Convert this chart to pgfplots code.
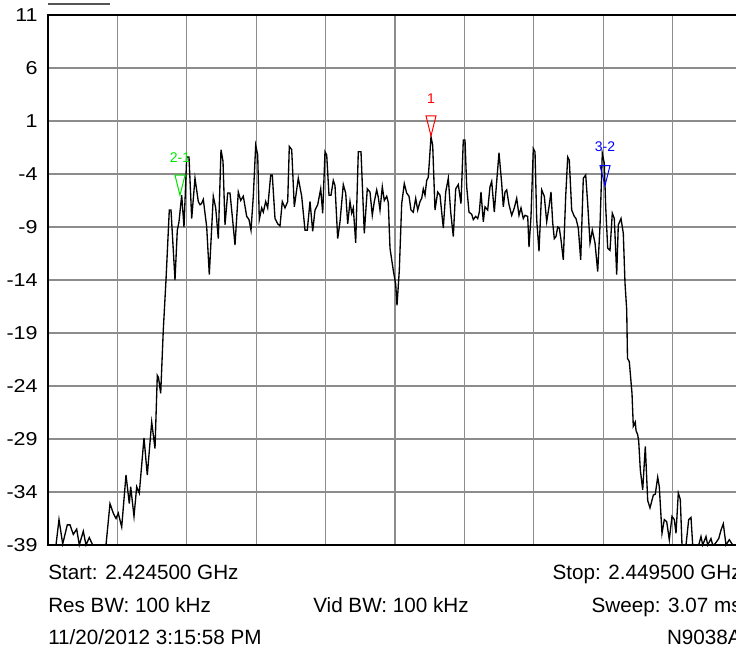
\documentclass[border=0pt]{standalone}
\usepackage{fontspec}
\setmainfont{Liberation Sans}
\newfontfamily\tickfont[FakeStretch=1.15]{Liberation Sans}
\usepackage{pgfplots}
\pgfplotsset{compat=1.18}
\pgfdeclareplotmark{mkdown}{%
  \pgfpathmoveto{\pgfqpoint{0pt}{0pt}}%
  \pgfpathlineto{\pgfqpoint{-3.75pt}{15pt}}%
  \pgfpathlineto{\pgfqpoint{3.75pt}{15pt}}%
  \pgfpathclose
  \pgfusepathqstroke}
\definecolor{gridgray}{RGB}{140,140,140}
\definecolor{mkgreen}{RGB}{0,230,0}
\definecolor{mkblue}{RGB}{0,0,255}
\definecolor{mkred}{RGB}{255,0,0}
\definecolor{bargray}{RGB}{85,85,85}
\begin{document}
\begin{tikzpicture}
\useasboundingbox (-36pt,-78.75pt) rectangle (516pt,408.75pt);
\begin{scope}[overlay]
\begin{axis}[
  at={(0,0)}, anchor=south west,
  scale only axis, width=520.5pt, height=397.5pt,
  xmin=48, xmax=742, ymin=-39, ymax=11,
  xtick={48,117.4,186.8,256.2,325.6,395,464.4,533.8,603.2,672.6,742},
  xticklabels={},
  ytick={-39,-34,-29,-24,-19,-14,-9,-4,1,6,11},
  grid=major,
  major grid style={draw=gridgray, line width=0.8pt},
  major tick length=0pt,
  axis line style={black, line width=1pt},
  /pgf/number format/assume math mode=true,
  yticklabel style={font=\tickfont\fontsize{14}{16}\selectfont, xshift=-4.3pt},
  clip=false,
]
\addplot[black, line width=1pt, mark=none] coordinates {
(48,-39) (56,-39) (59,-36.6) (62.7,-38.9) (67.3,-37.1) (70,-37.1) (73.3,-38) (76.7,-37.5)
(79.3,-39) (83.3,-37.7) (86,-39) (89.3,-38.3) (92.7,-39) (106,-39) (110,-35.1) (113.3,-36)
(116,-36.5) (118.3,-36) (121.7,-37.3) (126,-32.4) (129.3,-35.1) (130.7,-33.5) (134,-36.3)
(136.7,-33.5) (139.3,-34.1) (144,-28.9) (147.3,-32.4) (151.7,-27.4) (155,-29.9) (157.3,-23)
(158.5,-23.2) (160.7,-24.7) (163.3,-18.7) (166,-14) (169.3,-7.4) (171,-7.4) (175,-14)
(177.3,-9.3) (179,-8.5) (181.7,-6) (184,-9) (186.7,-2.4) (189,-2.4) (191.7,-8.2) (195,-4.4)
(198.3,-6.6) (200,-6.9) (201.5,-6.8) (203.3,-6.4) (206.7,-9) (209.3,-13.5) (213.3,-6.1)
(215.7,-7.2) (218.3,-10.1) (221,-1.7) (223,-2.8) (225,-8.8) (227.7,-5.8) (230,-5.8)
(232.3,-8) (235,-10.7) (238.3,-5.7) (240.7,-6.5) (243.3,-6.1) (246.7,-8) (249,-8.3)
(251,-9.3) (253.3,-6.1) (255.7,-1.3) (257.7,-2.2) (259.3,-8.3) (261.7,-7.2) (263.3,-7.6)
(265.7,-6.6) (267.7,-7.2) (270.7,-4.1) (272.3,-4.1) (275,-8.2) (277.7,-8.7) (280,-8.9)
(282.3,-6.6) (285,-7.2) (287.7,-6.6) (289.3,-1.4) (291.7,-1.7) (294.3,-7.1) (298.3,-4.4)
(301.7,-6.1) (305,-9.3) (307.3,-9.3) (310,-6.6) (312.7,-9.4) (315,-7.4) (317.7,-6.9)
(320.7,-5.4) (322.7,-7.7) (325,-1.9) (326.7,-2.2) (329,-6) (331,-6) (333.3,-4.6) (335,-5.1)
(337.7,-10.1) (340,-8.5) (343.3,-5) (345.7,-5.8) (347.7,-8.7) (350,-6.6) (351.7,-7.7)
(353.3,-7.2) (355.7,-10.5) (358.3,-1.9) (361,-1.9) (364.3,-9.6) (367.3,-5.4) (370,-5.7)
(372.3,-7.9) (374.3,-6.6) (376.7,-5.5) (378.3,-6.2) (380,-7.4) (382.3,-5.2) (384.3,-6.5)
(386.7,-6.1) (388.3,-6.7) (390,-11) (393.3,-13.1) (395.7,-14.4) (397,-16.4) (399.3,-13.1)
(401.7,-6.8) (404.3,-4.9) (406.7,-5.8) (409,-6.1) (411,-7.4) (413.3,-7.6) (415.7,-6.3)
(417.7,-7.4) (420,-6.6) (421.7,-6.3) (423.3,-5.4) (425,-6) (426.7,-4.6) (428.3,-4.3)
(431,-0.5) (432.7,-1.3) (435,-7.4) (437.7,-5.7) (440,-6) (443.3,-9.1) (445.7,-5.7)
(448.3,-4.4) (450.7,-7.6) (453.3,-9.9) (455.7,-5.4) (458.3,-5) (461,-6.8) (463.3,-0.8)
(465,-0.8) (466.7,-5.2) (469,-7.6) (471.7,-7.8) (473.3,-8.3) (475.7,-8) (477.7,-8.2)
(479.3,-7.6) (481,-5.7) (483.3,-8.5) (485,-7.1) (487.7,-7.4) (490,-5.2) (491.7,-4.7)
(494.3,-7.6) (496.7,-4.7) (499,-2) (501.7,-4.9) (503.3,-7.1) (505,-5.7) (506.7,-5.5)
(509,-6.9) (511.7,-7.9) (514.3,-7.2) (516.7,-6.3) (519,-7.9) (521,-7.2) (523.3,-8.2)
(525,-7.9) (527.7,-8) (529,-10.9) (531,-8) (533.3,-1.6) (535,-1.9) (536.7,-8.3)
(539,-11.3) (541.7,-5.5) (544.3,-6.1) (546.7,-8.5) (549,-7.1) (551,-5.7) (552.7,-8.6)
(554.3,-10.1) (556,-9.9) (557.7,-9) (559.3,-9.1) (561,-10.2) (563.3,-12.1) (565.7,-6.1)
(567.7,-2.4) (569.3,-2.7) (571.7,-7.4) (574.3,-8) (576,-8.2) (578.3,-9.1) (580.7,-12.1)
(583.3,-4.4) (585.7,-4.1) (587.7,-6.8) (590,-10.5) (592.3,-9.3) (595,-10.5) (597.7,-13.2)
(600,-8.9) (602.3,-2.05) (604.3,-3) (605.7,-7.1) (607.7,-11) (610,-11.2) (612.3,-7.7)
(614.3,-8.2) (616.7,-13.5) (618.3,-8.8) (621,-8.2) (623.3,-9.6) (625,-14.3) (626.7,-16.8)
(627.5,-21.4) (629.3,-21.7) (632,-24.7) (633.3,-27.8) (635.3,-27.4) (636,-28.2) (637.7,-28.6)
(638.7,-29.2) (640.3,-31.9) (642.7,-33.8) (645.3,-29.7) (647.7,-34.8) (650,-35.5)
(653.3,-34.3) (655.3,-34.2) (657.7,-32.6) (659.3,-33.5) (662,-37.9) (664.3,-36.6)
(666.7,-36.8) (669.3,-38.5) (672,-36.3) (674.3,-36.6) (676,-37.9) (678.3,-34.1)
(680.3,-34.7) (682,-39) (686,-39) (688.7,-36.6) (691,-36.4) (692.7,-39) (698.7,-39)
(701,-38.2) (702.7,-39) (706,-38.2) (707.7,-39) (711,-38.4) (712.7,-39) (715,-38.9)
(718.7,-38.4) (721,-37.6) (723.3,-37) (726,-39) (729.3,-38.5) (732.7,-39) (735,-39) (742,-39)
};
\addplot[mkgreen, only marks, mark=mkdown, mark options={line width=0.75pt},
  nodes near coords={2-1},
  every node near coord/.style={anchor=center, yshift=28pt, font=\fontsize{10.5}{12}\selectfont, text=mkgreen}]
  coordinates {(180,-6.0)};
\addplot[mkred, only marks, mark=mkdown, mark options={line width=0.75pt},
  nodes near coords={1},
  every node near coord/.style={anchor=center, yshift=28pt, font=\fontsize{10.5}{12}\selectfont, text=mkred}]
  coordinates {(431,-0.4)};
\addplot[mkblue, only marks, mark=mkdown, mark options={line width=0.75pt},
  nodes near coords={3-2},
  every node near coord/.style={anchor=center, yshift=29pt, font=\fontsize{10.5}{12}\selectfont, text=mkblue}]
  coordinates {(605,-5.1)};
\end{axis}
\draw[line width=1.7pt, color=bargray] (0,405.75pt) -- (46.5pt,405.75pt);
\begin{scope}[every node/.style={inner sep=0pt, font=\fontsize{15.5}{18}\selectfont}]
\node[anchor=base west] at (0,-26.25pt) {Start: 2.424500 GHz};
\node[anchor=base east] at (520.5pt,-26.25pt) {Stop: 2.449500 GHz};
\node[anchor=base west] at (0,-50.5pt) {Res BW: 100 kHz};
\node[anchor=base west] at (198.75pt,-50.5pt) {Vid BW: 100 kHz};
\node[anchor=base east] at (520.5pt,-50.5pt) {Sweep: 3.07 ms};
\node[anchor=base west] at (0,-74.25pt) {11/20/2012 3:15:58 PM};
\node[anchor=base east] at (520.5pt,-74.25pt) {N9038A};
\end{scope}
\end{scope}
\end{tikzpicture}
\end{document}
